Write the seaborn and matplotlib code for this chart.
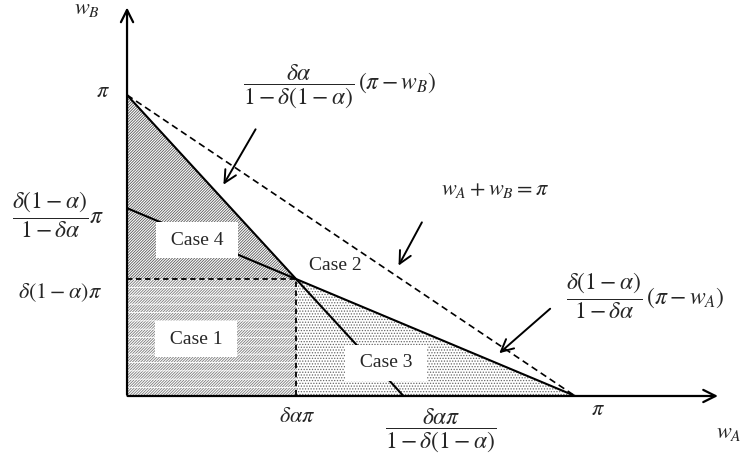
import numpy as np
import pandas as pd
import matplotlib.pyplot as plt
import seaborn as sns
from matplotlib.patches import Polygon

# key points of the diagram (pi scaled to 1)
x_pts = [0.377, 0.617, 1.0]   # δαπ, δαπ/(1-δ(1-α)), π
y_pts = [0.389, 0.624, 1.0]   # δ(1-α)π, δ(1-α)π/(1-δα), π
case_labels = ['Case 1', 'Case 2', 'Case 3', 'Case 4']

sns.set_theme(style='white')
plt.rcParams['font.family'] = ['Liberation Serif', 'DejaVu Serif']
plt.rcParams['mathtext.fontset'] = 'stix'
plt.rcParams['hatch.linewidth'] = 0.6

xa, xb, xpi = x_pts
ya, yb, ypi = y_pts

fig = plt.figure(figsize=(7.4, 4.67), dpi=100)
ax = fig.add_axes([0, 0, 1, 1])
ax.set_xlim(-0.2835, 1.368)
ax.set_ylim(-0.2359, 1.3156)
ax.axis('off')

# shaded regions
# case 4: dense diagonal hatch
ax.add_patch(Polygon([(0, ya), (xa, ya), (0, ypi)], closed=True,
                     facecolor='white', edgecolor='#5a5a5a', hatch='/' * 12, lw=0, zorder=1))
# case 1: rows of short diagonal hatch
ax.add_patch(Polygon([(0, 0), (xa, 0), (xa, ya), (0, ya)], closed=True,
                     facecolor='white', edgecolor='#7a7a7a', hatch='/' * 12, lw=0, zorder=1))
ax.add_patch(Polygon([(0, 0), (xa, 0), (xa, ya), (0, ya)], closed=True,
                     facecolor='none', edgecolor='white', hatch='--', lw=0, zorder=1.5))
# case 3: stipple
ax.add_patch(Polygon([(xa, 0), (xpi, 0), (xa, ya)], closed=True,
                     facecolor='white', edgecolor='#666666', hatch='......', lw=0, zorder=1))

# lines
line_kw = dict(sort=False, estimator=None, ax=ax, color='black')
sns.lineplot(x=[0, xpi], y=[ypi, 0], lw=1.2, linestyle=(0, (4, 2.5)), zorder=3, **line_kw)
sns.lineplot(x=[0, xb], y=[ypi, 0], lw=1.5, zorder=3, **line_kw)
sns.lineplot(x=[0, xpi], y=[yb, 0], lw=1.5, zorder=3, **line_kw)
sns.lineplot(x=[0, xa, xa], y=[ya, ya, 0], lw=1.3, linestyle=(0, (3, 2)), zorder=3, **line_kw)

# axes with arrows
ax.annotate('', xy=(1.325, 0), xytext=(-0.005, 0),
            arrowprops=dict(arrowstyle='->', lw=1.6, color='black', mutation_scale=22), zorder=4)
ax.annotate('', xy=(0, 1.30), xytext=(0, -0.005),
            arrowprops=dict(arrowstyle='->', lw=1.6, color='black', mutation_scale=22), zorder=4)

# axis labels and tick labels
fs = 16
ffs = 17
ax.text(-0.089, 1.284, r'$w_B$', fontsize=fs, ha='center', va='center')
ax.text(1.342, -0.123, r'$w_A$', fontsize=fs, ha='center', va='center')
ax.text(-0.054, 1.007, r'$\pi$', fontsize=fs, ha='center', va='center')
ax.text(-0.155, 0.601, r'$\dfrac{\delta(1-\alpha)}{1-\delta\alpha}\pi$', fontsize=ffs,
        ha='center', va='center')
ax.text(-0.150, 0.342, r'$\delta(1-\alpha)\pi$', fontsize=fs, ha='center', va='center')
ax.text(0.379, -0.073, r'$\delta\alpha\pi$', fontsize=fs, ha='center', va='center')
ax.text(0.699, -0.112, r'$\dfrac{\delta\alpha\pi}{1-\delta(1-\alpha)}$', fontsize=ffs,
        ha='center', va='center')
ax.text(1.051, -0.047, r'$\pi$', fontsize=fs, ha='center', va='center')

# formulas with arrows
ax.text(0.475, 1.030, r'$\dfrac{\delta\alpha}{1-\delta(1-\alpha)}\,(\pi-w_B)$', fontsize=ffs,
        ha='center', va='center')
ax.annotate('', xy=(0.212, 0.694), xytext=(0.290, 0.894),
            arrowprops=dict(arrowstyle='->', lw=1.4, color='black', mutation_scale=22), zorder=5)
ax.text(0.821, 0.684, r'$w_A+w_B=\pi$', fontsize=fs, ha='center', va='center')
ax.annotate('', xy=(0.603, 0.425), xytext=(0.661, 0.585),
            arrowprops=dict(arrowstyle='->', lw=1.4, color='black', mutation_scale=22), zorder=5)
ax.text(1.156, 0.330, r'$\dfrac{\delta(1-\alpha)}{1-\delta\alpha}\,(\pi-w_A)$', fontsize=ffs,
        ha='center', va='center')
ax.annotate('', xy=(0.826, 0.136), xytext=(0.949, 0.296),
            arrowprops=dict(arrowstyle='->', lw=1.4, color='black', mutation_scale=22), zorder=5)

# case labels
box = dict(boxstyle='square,pad=0.5', facecolor='white', edgecolor='none')
ax.text(0.154, 0.189, f' {case_labels[0]} ', fontsize=14, ha='center', va='center', bbox=box, zorder=6)
ax.text(0.464, 0.432, case_labels[1], fontsize=14, ha='center', va='center', zorder=6)
ax.text(0.578, 0.110, f' {case_labels[2]} ', fontsize=14, ha='center', va='center', bbox=box, zorder=6)
ax.text(0.156, 0.518, f' {case_labels[3]} ', fontsize=14, ha='center', va='center', bbox=box, zorder=6)

fig.savefig('out.png', dpi=100)
